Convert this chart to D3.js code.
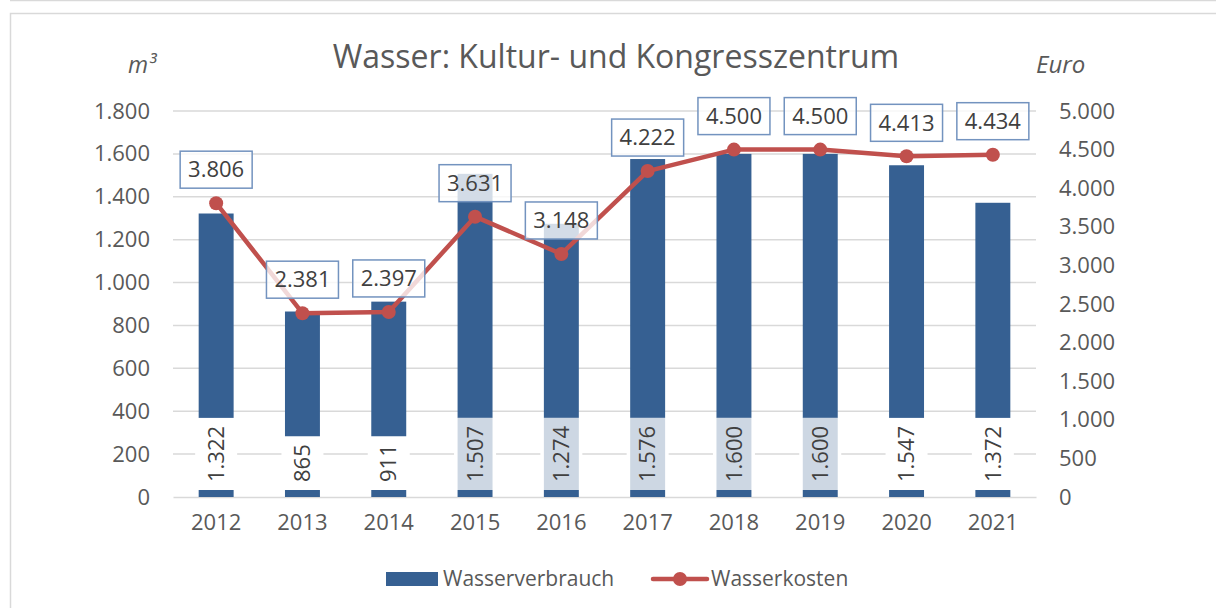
<!DOCTYPE html>
<html><head><meta charset="utf-8">
<script src="https://cdn.jsdelivr.net/npm/d3@7"></script>
<style>body{margin:0;background:#fff}svg{display:block}text{font-family:"Open Sans",sans-serif}</style>
</head><body><svg id="c" width="1216" height="608"></svg>
<script>
const years = ["2012","2013","2014","2015","2016","2017","2018","2019","2020","2021"];
const verbrauch = [1322, 865, 911, 1507, 1274, 1576, 1600, 1600, 1547, 1372];
const kosten = [3806, 2381, 2397, 3631, 3148, 4222, 4500, 4500, 4413, 4434];
const leftTicks = [0,200,400,600,800,1000,1200,1400,1600,1800];
const rightTicks = [0,500,1000,1500,2000,2500,3000,3500,4000,4500,5000];
const shadedLabelYears = ["2015","2016","2017","2018","2019"];

const fmt = v => d3.format(",")(v).replace(/,/g, ".");
const svg = d3.select("#c");
const grey = "#595959";
const fs = "22px";

// frame
svg.append("line").attr("x1",10).attr("x2",1216).attr("y1",0.5).attr("y2",0.5).attr("stroke","#d9d9d9").attr("stroke-width",1.5);
svg.append("rect").attr("x",10.5).attr("y",13.5).attr("width",1220).attr("height",620).attr("fill","none").attr("stroke","#d9d9d9").attr("stroke-width",1.5);

const x = d3.scaleBand().domain(years).range([173,1036]).paddingInner(0.595).paddingOuter(0.2975);
const yL = d3.scaleLinear().domain([0,1800]).range([497,111]);
const yR = d3.scaleLinear().domain([0,5000]).range([497,111]);

// gridlines
svg.append("g").selectAll("line").data(leftTicks.slice(1)).join("line")
  .attr("x1",173).attr("x2",1036).attr("y1",d=>yL(d)).attr("y2",d=>yL(d))
  .attr("stroke","#d9d9d9").attr("stroke-width",1.5);

// left axis
const gl = svg.append("g").attr("transform","translate(173,0)").call(d3.axisLeft(yL).tickValues(leftTicks).tickFormat(fmt).tickSize(0).tickPadding(23));
gl.select(".domain").remove();
gl.selectAll("text").attr("fill",grey).style("font-size",fs).style("font-family","'Open Sans',sans-serif");
// right axis
const gr = svg.append("g").attr("transform","translate(1036,0)").call(d3.axisRight(yR).tickValues(rightTicks).tickFormat(fmt).tickSize(0).tickPadding(23));
gr.select(".domain").remove();
gr.selectAll("text").attr("fill",grey).style("font-size",fs).style("font-family","'Open Sans',sans-serif");
// bottom axis
const gb = svg.append("g").attr("transform","translate(0,497)").call(d3.axisBottom(x).tickSize(0).tickPadding(17));
gb.select(".domain").attr("stroke","#d9d9d9").attr("stroke-width",1.5);
gb.selectAll("text").attr("fill",grey).style("font-size",fs).style("font-family","'Open Sans',sans-serif");

// bars
svg.append("g").selectAll("rect").data(years).join("rect")
  .attr("x",d=>x(d)).attr("width",x.bandwidth())
  .attr("y",(d,i)=>yL(verbrauch[i])).attr("height",(d,i)=>yL(0)-yL(verbrauch[i]))
  .attr("fill","#366092");

// bar labels
const bl = svg.append("g");
years.forEach((yr,i)=>{
  const cx = x(yr)+x.bandwidth()/2;
  const g = bl.append("g");
  const t = g.append("text").attr("transform",`translate(${cx},0) rotate(-90)`)
    .attr("text-anchor","middle").attr("dy","0.35em").attr("fill","#404040").style("font-size",fs).text(fmt(verbrauch[i]));
  const len = t.node().getComputedTextLength();
  const h = len + 16;
  const bottom = 490;
  t.attr("transform",`translate(${cx},${bottom-h/2}) rotate(-90)`);
  const shaded = shadedLabelYears.includes(yr);
  g.insert("rect","text").attr("x",cx-21).attr("width",42).attr("y",bottom-h).attr("height",h).attr("fill","#fff");
  if (shaded) g.insert("rect","text").attr("x",x(yr)).attr("width",x.bandwidth()).attr("y",bottom-h).attr("height",h).attr("fill","#cdd7e3");
});

// line
const cxs = years.map(yr=>x(yr)+x.bandwidth()/2);
svg.append("path").datum(kosten).attr("fill","none").attr("stroke","#c0504d").attr("stroke-width",4.5).attr("stroke-linejoin","round")
  .attr("d", d3.line().x((d,i)=>cxs[i]).y(d=>yR(d)));
svg.append("g").selectAll("circle").data(kosten).join("circle")
  .attr("cx",(d,i)=>cxs[i]).attr("cy",d=>yR(d)).attr("r",7).attr("fill","#c0504d");

// cost labels
const cl = svg.append("g");
kosten.forEach((v,i)=>{
  const cx = cxs[i], cy = yR(v);
  const g = cl.append("g");
  g.append("rect").attr("x",cx-36).attr("width",72).attr("y",cy-52).attr("height",37)
    .attr("fill","#fff").attr("fill-opacity",0.78).attr("stroke","#7393bf").attr("stroke-width",1.5);
  g.append("text").attr("x",cx).attr("y",cy-33.5).attr("dy","0.35em").attr("text-anchor","middle")
    .attr("fill","#404040").style("font-size",fs).text(fmt(v));
});

// title & unit labels
svg.append("text").attr("x",616).attr("y",68).attr("text-anchor","middle").attr("fill",grey).style("font-size","32px").text("Wasser: Kultur- und Kongresszentrum");
svg.append("text").attr("x",156).attr("y",73).attr("text-anchor","end").attr("fill",grey).style("font-size","23px").style("font-style","italic").text("m³");
svg.append("text").attr("x",1036).attr("y",73).attr("fill",grey).style("font-size","24px").style("font-style","italic").text("Euro");

// legend
const lg = svg.append("g");
lg.append("rect").attr("x",386).attr("y",572).attr("width",52).attr("height",14).attr("fill","#366092");
lg.append("text").attr("x",443).attr("y",579).attr("dy","0.35em").attr("fill",grey).style("font-size","21px").text("Wasserverbrauch");
lg.append("line").attr("x1",653).attr("x2",707).attr("y1",579).attr("y2",579).attr("stroke","#c0504d").attr("stroke-width",4.5).attr("stroke-linecap","round");
lg.append("circle").attr("cx",680).attr("cy",579).attr("r",7).attr("fill","#c0504d");
lg.append("text").attr("x",711).attr("y",579).attr("dy","0.35em").attr("fill",grey).style("font-size","21px").text("Wasserkosten");
</script></body></html>
